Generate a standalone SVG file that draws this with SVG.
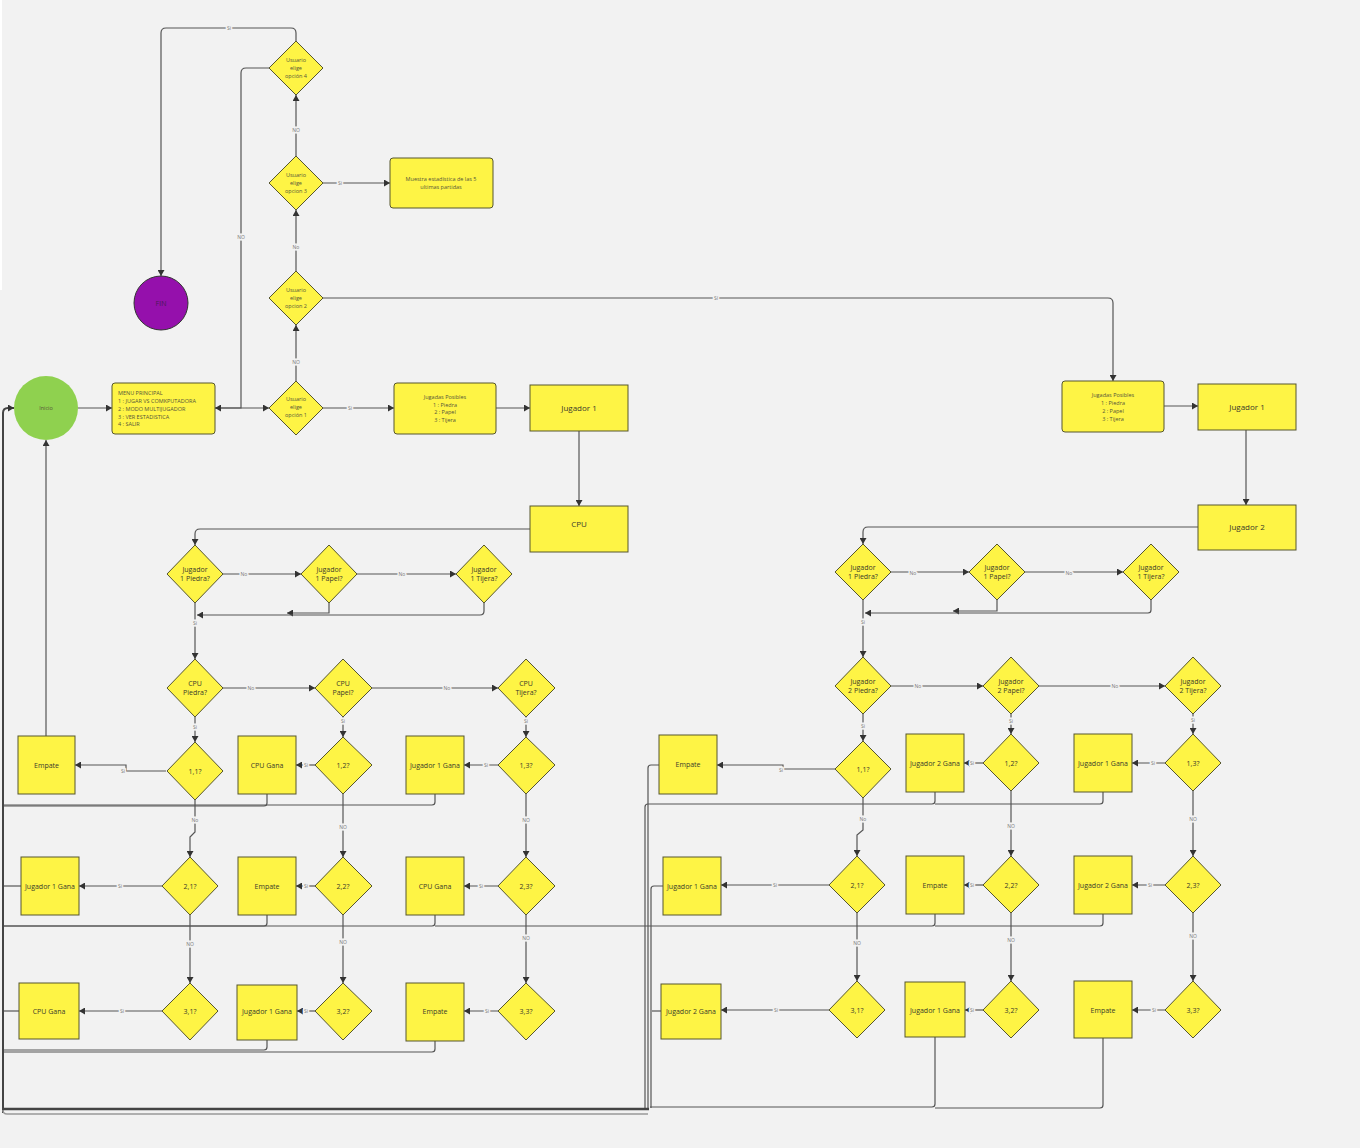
<svg xmlns="http://www.w3.org/2000/svg" width="1360" height="1148" viewBox="0 0 1360 1148">
<style>
  text { font-family: "Open Sans", "Liberation Sans", sans-serif; }
  .box { fill: #fef445; stroke: #56562e; stroke-width: 1; }
  .dia { fill: #fef445; stroke: #56562e; stroke-width: 1; }
  .t { font-size: 7px; fill: #3a3a2a; text-anchor: middle; }
  .tb { font-size: 8px; fill: #3a3a2a; text-anchor: middle; }
  .ts { font-size: 5.5px; fill: #55553a; }
  .tc { font-size: 5.5px; fill: #55553a; text-anchor: middle; }
  .c { fill: none; stroke: #555; stroke-width: 1.2; }
  .ca { fill: none; stroke: #555; stroke-width: 1.2; marker-end: url(#ah); }
  .bus { fill: none; stroke: #444; stroke-width: 2; }
  .lbl { font-size: 5px; fill: #777; text-anchor: middle; dominant-baseline: central; stroke: #f2f2f2; stroke-width: 3; paint-order: stroke; }
</style>
<defs>
  <marker id="ah" markerUnits="userSpaceOnUse" markerWidth="7" markerHeight="7" refX="6" refY="3.5" orient="auto">
    <path d="M0,0 L6,3.5 L0,7 z" fill="#333"/>
  </marker>
</defs>
<rect x="0" y="0" width="1360" height="1148" fill="#f2f2f2"/>
<rect x="0" y="0" width="2" height="290" fill="#ffffff"/>

<!-- connectors -->
<g id="connectors">
  <!-- main menu flow -->
  <path class="ca" d="M78,408 H112"/>
  <path class="ca" d="M215,408 H269"/>
  <path class="ca" d="M269,68 H246 Q241,68 241,73 V408 H215"/>
  <path class="ca" d="M296,381 V325"/>
  <path class="ca" d="M296,271 V210"/>
  <path class="ca" d="M296,156 V95"/>
  <path class="ca" d="M323,183 H390"/>
  <path class="ca" d="M296,41 V33 Q296,28 291,28 H166 Q161,28 161,33 V276"/>
  <path class="ca" d="M323,408 H394"/>
  <path class="ca" d="M496,408 H530"/>
  <path class="ca" d="M579,431 V506"/>
  <path class="ca" d="M530,529 H200 Q195,529 195,534 V545"/>
  <path class="ca" d="M323,298 H1108 Q1113,298 1113,303 V381"/>

  <!-- player vs cpu -->
  <path class="ca" d="M223,574 H301"/>
  <path class="ca" d="M357,574 H456"/>
  <path class="ca" d="M329,603 V613 H287"/>
  <path class="ca" d="M484,603 V611 Q484,615 480,615 H197"/>
  <path class="ca" d="M195,603 V659"/>
  <path class="ca" d="M223,688 H315"/>
  <path class="ca" d="M372,688 H498"/>
  <path class="ca" d="M195,717 V742"/>
  <path class="ca" d="M343,717 V737"/>
  <path class="ca" d="M526,717 V737"/>
  <path class="ca" d="M166,771 H126 V765 H75"/>
  <path class="ca" d="M315,765 H296"/>
  <path class="ca" d="M498,765 H464"/>
  <path class="ca" d="M195,800 V832 L190,837 V857"/>
  <path class="ca" d="M343,794 V857"/>
  <path class="ca" d="M526,794 V857"/>
  <path class="ca" d="M162,886 H79"/>
  <path class="ca" d="M315,886 H296"/>
  <path class="ca" d="M498,886 H464"/>
  <path class="ca" d="M190,915 V983"/>
  <path class="ca" d="M343,915 V983"/>
  <path class="ca" d="M526,915 V983"/>
  <path class="ca" d="M162,1011 H79"/>
  <path class="ca" d="M315,1011 H297"/>
  <path class="ca" d="M498,1011 H464"/>

  <!-- returns to start (left) -->
  <path class="ca" d="M46,736 V440"/>
  <path class="bus" d="M3,1113 V413 Q3,408 8,408 H14" marker-end="url(#ah)"/>
  <path class="c" d="M267,794 V803 Q267,806 264,806 H4"/>
  <path class="c" d="M435,794 V802 Q435,805 432,805 H4"/>
  <path class="c" d="M21,886 H4"/>
  <path class="c" d="M267,915 V923 Q267,926 264,926 H4"/>
  <path class="c" d="M435,915 V923 Q435,926 432,926 H4"/>
  <path class="c" d="M19,1011 H4"/>
  <path class="c" d="M267,1040 V1047 Q267,1050 264,1050 H4"/>
  <path class="c" d="M435,1041 V1049 Q435,1052 432,1052 H4"/>

  <!-- player vs player -->
  <path class="ca" d="M1164,406 H1198"/>
  <path class="ca" d="M1246,430 V505"/>
  <path class="ca" d="M1198,527 H868 Q863,527 863,532 V544"/>
  <path class="ca" d="M891,572 H969"/>
  <path class="ca" d="M1025,572 H1123"/>
  <path class="ca" d="M997,600 V611 H953"/>
  <path class="ca" d="M1151,600 V610 Q1151,613 1148,613 H865"/>
  <path class="ca" d="M863,600 V657"/>
  <path class="ca" d="M891,686 H983"/>
  <path class="ca" d="M1039,686 H1165"/>
  <path class="ca" d="M863,714 V741"/>
  <path class="ca" d="M1011,714 V734"/>
  <path class="ca" d="M1193,714 V734"/>
  <path class="ca" d="M835,769 H783 V765 H717"/>
  <path class="ca" d="M983,763 H964"/>
  <path class="ca" d="M1165,763 H1132"/>
  <path class="ca" d="M863,798 V830 L857,835 V856"/>
  <path class="ca" d="M1011,791 V856"/>
  <path class="ca" d="M1193,791 V856"/>
  <path class="ca" d="M829,885 H721"/>
  <path class="ca" d="M983,885 H964"/>
  <path class="ca" d="M1165,885 H1132"/>
  <path class="ca" d="M857,913 V981"/>
  <path class="ca" d="M1011,913 V981"/>
  <path class="ca" d="M1193,913 V981"/>
  <path class="ca" d="M829,1010 H721"/>
  <path class="ca" d="M983,1010 H965"/>
  <path class="ca" d="M1165,1010 H1132"/>

  <!-- returns to start (right) -->
  <path class="c" d="M659,765 H651 Q648,765 648,768 V1108"/>
  <path class="c" d="M935,792 V801 Q935,804 932,804 H648 Q645,804 645,807 V1110"/>
  <path class="c" d="M1103,792 V801 Q1103,804 1100,804 H935"/>
  <path class="c" d="M663,886 H654 Q651,886 651,889 V1108"/>
  <path class="c" d="M935,914 V923 Q935,926 932,926 H435"/>
  <path class="c" d="M1103,914 V923 Q1103,926 1100,926 H935"/>
  <path class="c" d="M661,1011 H652"/>
  <path class="c" d="M935,1037 V1104 Q935,1107 932,1107 H650"/>
  <path class="c" d="M1103,1038 V1105 Q1103,1108 1100,1108 H935"/>
  <path fill="none" stroke="#444" stroke-width="2.5" d="M649,1109 H3"/>
  <path fill="none" stroke="#999" stroke-width="1.5" d="M648,1114 H7 Q3,1114 3,1110"/>

  <!-- connector labels -->
  <text class="lbl" x="241" y="237">NO</text>
  <text class="lbl" x="296" y="362">NO</text>
  <text class="lbl" x="296" y="247">No</text>
  <text class="lbl" x="296" y="130">NO</text>
  <text class="lbl" x="340" y="183">Si</text>
  <text class="lbl" x="229" y="28">Si</text>
  <text class="lbl" x="350" y="408">Si</text>
  <text class="lbl" x="716" y="298">Sí</text>

  <text class="lbl" x="244" y="574">No</text>
  <text class="lbl" x="402" y="574">No</text>
  <text class="lbl" x="195" y="623">Si</text>
  <text class="lbl" x="251" y="688">No</text>
  <text class="lbl" x="447" y="688">No</text>
  <text class="lbl" x="195" y="727">Si</text>
  <text class="lbl" x="343" y="721">Si</text>
  <text class="lbl" x="526" y="721">Si</text>
  <text class="lbl" x="123" y="771">Si</text>
  <text class="lbl" x="306" y="765">Si</text>
  <text class="lbl" x="486" y="765">Si</text>
  <text class="lbl" x="195" y="820">No</text>
  <text class="lbl" x="343" y="827">NO</text>
  <text class="lbl" x="526" y="820">NO</text>
  <text class="lbl" x="120" y="886">Si</text>
  <text class="lbl" x="306" y="886">Si</text>
  <text class="lbl" x="481" y="886">Si</text>
  <text class="lbl" x="190" y="944">NO</text>
  <text class="lbl" x="343" y="942">NO</text>
  <text class="lbl" x="526" y="938">NO</text>
  <text class="lbl" x="122" y="1011">Si</text>
  <text class="lbl" x="306" y="1011">Si</text>
  <text class="lbl" x="487" y="1011">Si</text>

  <text class="lbl" x="913" y="573">No</text>
  <text class="lbl" x="1069" y="573">No</text>
  <text class="lbl" x="863" y="622">Si</text>
  <text class="lbl" x="918" y="686">No</text>
  <text class="lbl" x="1115" y="686">No</text>
  <text class="lbl" x="863" y="726">Si</text>
  <text class="lbl" x="1011" y="721">Si</text>
  <text class="lbl" x="1193" y="720">Si</text>
  <text class="lbl" x="781" y="770">Si</text>
  <text class="lbl" x="972" y="763">Si</text>
  <text class="lbl" x="1153" y="763">Si</text>
  <text class="lbl" x="863" y="819">No</text>
  <text class="lbl" x="1011" y="826">NO</text>
  <text class="lbl" x="1193" y="819">NO</text>
  <text class="lbl" x="775" y="885">Si</text>
  <text class="lbl" x="972" y="885">Si</text>
  <text class="lbl" x="1150" y="885">Si</text>
  <text class="lbl" x="857" y="943">NO</text>
  <text class="lbl" x="1011" y="940">NO</text>
  <text class="lbl" x="1193" y="936">NO</text>
  <text class="lbl" x="776" y="1010">Si</text>
  <text class="lbl" x="972" y="1010">Si</text>
  <text class="lbl" x="1154" y="1010">Si</text>
</g>

<!-- start / end -->
<g id="inicio">
  <circle cx="46" cy="408" r="32" fill="#8fd14f"/>
  <text class="tc" x="46" y="410">Inicio</text>
</g>
<g id="fin">
  <circle cx="161" cy="303" r="27" fill="#9510ac" stroke="#333" stroke-width="1"/>
  <text x="161" y="305.5" style="font-size:7px; fill:#4a1a55; text-anchor:middle;">FIN</text>
</g>

<!-- main menu -->
<g id="menu">
  <rect class="box" x="112" y="383" width="103" height="51" rx="3"/>
  <text class="ts" x="118" y="395">MENU PRINCIPAL</text>
  <text class="ts" x="118" y="403">1 : JUGAR VS COMKPUTADORA</text>
  <text class="ts" x="118" y="411">2 : MODO MULTIJUGADOR</text>
  <text class="ts" x="118" y="419">3 : VER ESTADISTICA</text>
  <text class="ts" x="118" y="426">4 : SALIR</text>
</g>
<g id="opcion1">
  <polygon class="dia" points="296,381 323,408 296,435 269,408"/>
  <text class="tc" x="296" y="401">Usuario</text>
  <text class="tc" x="296" y="409">elige</text>
  <text class="tc" x="296" y="417">opción 1</text>
</g>
<g id="opcion2">
  <polygon class="dia" points="296,271 323,298 296,325 269,298"/>
  <text class="tc" x="296" y="292">Usuario</text>
  <text class="tc" x="296" y="300">elige</text>
  <text class="tc" x="296" y="308">opcion 2</text>
</g>
<g id="opcion3">
  <polygon class="dia" points="296,156 323,183 296,210 269,183"/>
  <text class="tc" x="296" y="177">Usuario</text>
  <text class="tc" x="296" y="185">elige</text>
  <text class="tc" x="296" y="193">opcion 3</text>
</g>
<g id="opcion4">
  <polygon class="dia" points="296,41 323,68 296,95 269,68"/>
  <text class="tc" x="296" y="62">Usuario</text>
  <text class="tc" x="296" y="70">elige</text>
  <text class="tc" x="296" y="78">opción 4</text>
</g>
<g id="estadistica">
  <rect class="box" x="390" y="158" width="103" height="50" rx="3"/>
  <text class="tc" x="441" y="181">Muestra estadística de las 5</text>
  <text class="tc" x="441" y="189">ultimas partidas</text>
</g>

<!-- player vs cpu -->
<g id="jugadas1">
  <rect class="box" x="394" y="383" width="102" height="51" rx="3"/>
  <text class="tc" x="445" y="399">Jugadas Posibles</text>
  <text class="tc" x="445" y="407">1 : Piedra</text>
  <text class="tc" x="445" y="414">2 : Papel</text>
  <text class="tc" x="445" y="422">3 : Tijera</text>
</g>
<g id="jugador1a">
  <rect class="box" x="530" y="385" width="98" height="46"/>
  <text class="tb" x="579" y="411">Jugador 1</text>
</g>
<g id="cpu">
  <rect class="box" x="530" y="506" width="98" height="46"/>
  <text class="tb" x="579" y="527">CPU</text>
</g>
<g id="j1piedra-a">
  <polygon class="dia" points="195,545 223,574 195,603 167,574"/>
  <text class="t" x="195" y="572">Jugador</text>
  <text class="t" x="195" y="581">1 Piedra?</text>
</g>
<g id="j1papel-a">
  <polygon class="dia" points="329,545 357,574 329,603 301,574"/>
  <text class="t" x="329" y="572">Jugador</text>
  <text class="t" x="329" y="581">1 Papel?</text>
</g>
<g id="j1tijera-a">
  <polygon class="dia" points="484,545 512,574 484,603 456,574"/>
  <text class="t" x="484" y="572">Jugador</text>
  <text class="t" x="484" y="581">1 Tijera?</text>
</g>
<g id="cpupiedra">
  <polygon class="dia" points="195,659 223,688 195,717 167,688"/>
  <text class="t" x="195" y="686">CPU</text>
  <text class="t" x="195" y="695">Piedra?</text>
</g>
<g id="cpupapel">
  <polygon class="dia" points="343,659 372,688 343,717 315,688"/>
  <text class="t" x="343" y="686">CPU</text>
  <text class="t" x="343" y="695">Papel?</text>
</g>
<g id="cputijera">
  <polygon class="dia" points="526,659 555,688 526,717 498,688"/>
  <text class="t" x="526" y="686">CPU</text>
  <text class="t" x="526" y="695">Tijera?</text>
</g>
<g id="a11"><polygon class="dia" points="195,742 223,771 195,800 167,771"/><text class="t" x="195" y="773.5">1,1?</text></g>
<g id="a12"><polygon class="dia" points="343,737 372,765 343,794 315,765"/><text class="t" x="343" y="767.5">1,2?</text></g>
<g id="a13"><polygon class="dia" points="526,737 555,765 526,794 498,765"/><text class="t" x="526" y="767.5">1,3?</text></g>
<g id="a21"><polygon class="dia" points="190,857 218,886 190,915 162,886"/><text class="t" x="190" y="888.5">2,1?</text></g>
<g id="a22"><polygon class="dia" points="343,857 372,886 343,915 315,886"/><text class="t" x="343" y="888.5">2,2?</text></g>
<g id="a23"><polygon class="dia" points="526,857 555,886 526,915 498,886"/><text class="t" x="526" y="888.5">2,3?</text></g>
<g id="a31"><polygon class="dia" points="190,983 218,1011 190,1040 162,1011"/><text class="t" x="190" y="1013.5">3,1?</text></g>
<g id="a32"><polygon class="dia" points="343,983 372,1011 343,1040 315,1011"/><text class="t" x="343" y="1013.5">3,2?</text></g>
<g id="a33"><polygon class="dia" points="526,983 555,1011 526,1040 498,1011"/><text class="t" x="526" y="1013.5">3,3?</text></g>
<g id="ra11"><rect class="box" x="18" y="736" width="57" height="58"/><text class="t" x="46.5" y="767.5">Empate</text></g>
<g id="ra12"><rect class="box" x="238" y="736" width="58" height="58"/><text class="t" x="267" y="767.5">CPU Gana</text></g>
<g id="ra13"><rect class="box" x="406" y="736" width="58" height="58"/><text class="t" x="435" y="767.5">Jugador 1 Gana</text></g>
<g id="ra21"><rect class="box" x="21" y="857" width="58" height="58"/><text class="t" x="50" y="888.5">Jugador 1 Gana</text></g>
<g id="ra22"><rect class="box" x="238" y="857" width="58" height="58"/><text class="t" x="267" y="888.5">Empate</text></g>
<g id="ra23"><rect class="box" x="406" y="857" width="58" height="58"/><text class="t" x="435" y="888.5">CPU Gana</text></g>
<g id="ra31"><rect class="box" x="19" y="983" width="60" height="56"/><text class="t" x="49" y="1013.5">CPU Gana</text></g>
<g id="ra32"><rect class="box" x="237" y="985" width="60" height="55"/><text class="t" x="267" y="1013.5">Jugador 1 Gana</text></g>
<g id="ra33"><rect class="box" x="406" y="983" width="58" height="58"/><text class="t" x="435" y="1013.5">Empate</text></g>

<!-- player vs player -->
<g id="jugadas2">
  <rect class="box" x="1062" y="381" width="102" height="51" rx="3"/>
  <text class="tc" x="1113" y="397">Jugadas Posibles</text>
  <text class="tc" x="1113" y="405">1 : Piedra</text>
  <text class="tc" x="1113" y="413">2 : Papel</text>
  <text class="tc" x="1113" y="421">3 : Tijera</text>
</g>
<g id="jugador1b">
  <rect class="box" x="1198" y="384" width="98" height="46"/>
  <text class="tb" x="1247" y="409.5">Jugador 1</text>
</g>
<g id="jugador2">
  <rect class="box" x="1198" y="505" width="98" height="45"/>
  <text class="tb" x="1247" y="530">Jugador 2</text>
</g>
<g id="j1piedra-b">
  <polygon class="dia" points="863,544 891,572 863,600 835,572"/>
  <text class="t" x="863" y="570">Jugador</text>
  <text class="t" x="863" y="579">1 Piedra?</text>
</g>
<g id="j1papel-b">
  <polygon class="dia" points="997,544 1025,572 997,600 969,572"/>
  <text class="t" x="997" y="570">Jugador</text>
  <text class="t" x="997" y="579">1 Papel?</text>
</g>
<g id="j1tijera-b">
  <polygon class="dia" points="1151,544 1179,572 1151,600 1123,572"/>
  <text class="t" x="1151" y="570">Jugador</text>
  <text class="t" x="1151" y="579">1 Tijera?</text>
</g>
<g id="j2piedra">
  <polygon class="dia" points="863,657 891,686 863,714 835,686"/>
  <text class="t" x="863" y="684">Jugador</text>
  <text class="t" x="863" y="693">2 Piedra?</text>
</g>
<g id="j2papel">
  <polygon class="dia" points="1011,657 1039,686 1011,714 983,686"/>
  <text class="t" x="1011" y="684">Jugador</text>
  <text class="t" x="1011" y="693">2 Papel?</text>
</g>
<g id="j2tijera">
  <polygon class="dia" points="1193,657 1221,686 1193,714 1165,686"/>
  <text class="t" x="1193" y="684">Jugador</text>
  <text class="t" x="1193" y="693">2 Tijera?</text>
</g>
<g id="b11"><polygon class="dia" points="863,741 891,769 863,798 835,769"/><text class="t" x="863" y="771.5">1,1?</text></g>
<g id="b12"><polygon class="dia" points="1011,734 1039,763 1011,791 983,763"/><text class="t" x="1011" y="765.5">1,2?</text></g>
<g id="b13"><polygon class="dia" points="1193,734 1221,763 1193,791 1165,763"/><text class="t" x="1193" y="765.5">1,3?</text></g>
<g id="b21"><polygon class="dia" points="857,856 885,885 857,913 829,885"/><text class="t" x="857" y="887.5">2,1?</text></g>
<g id="b22"><polygon class="dia" points="1011,856 1039,885 1011,913 983,885"/><text class="t" x="1011" y="887.5">2,2?</text></g>
<g id="b23"><polygon class="dia" points="1193,856 1221,885 1193,913 1165,885"/><text class="t" x="1193" y="887.5">2,3?</text></g>
<g id="b31"><polygon class="dia" points="857,981 885,1010 857,1038 829,1010"/><text class="t" x="857" y="1012.5">3,1?</text></g>
<g id="b32"><polygon class="dia" points="1011,981 1039,1010 1011,1038 983,1010"/><text class="t" x="1011" y="1012.5">3,2?</text></g>
<g id="b33"><polygon class="dia" points="1193,981 1221,1010 1193,1038 1165,1010"/><text class="t" x="1193" y="1012.5">3,3?</text></g>
<g id="rb11"><rect class="box" x="659" y="735" width="58" height="59"/><text class="t" x="688" y="767">Empate</text></g>
<g id="rb12"><rect class="box" x="906" y="734" width="58" height="58"/><text class="t" x="935" y="765.5">Jugador 2 Gana</text></g>
<g id="rb13"><rect class="box" x="1074" y="734" width="58" height="58"/><text class="t" x="1103" y="765.5">Jugador 1 Gana</text></g>
<g id="rb21"><rect class="box" x="663" y="857" width="58" height="58"/><text class="t" x="692" y="888.5">Jugador 1 Gana</text></g>
<g id="rb22"><rect class="box" x="906" y="856" width="58" height="58"/><text class="t" x="935" y="887.5">Empate</text></g>
<g id="rb23"><rect class="box" x="1074" y="856" width="58" height="58"/><text class="t" x="1103" y="887.5">Jugador 2 Gana</text></g>
<g id="rb31"><rect class="box" x="661" y="984" width="60" height="55"/><text class="t" x="691" y="1013.5">Jugador 2 Gana</text></g>
<g id="rb32"><rect class="box" x="905" y="982" width="60" height="55"/><text class="t" x="935" y="1012.5">Jugador 1 Gana</text></g>
<g id="rb33"><rect class="box" x="1074" y="981" width="58" height="57"/><text class="t" x="1103" y="1012.5">Empate</text></g>
</svg>
